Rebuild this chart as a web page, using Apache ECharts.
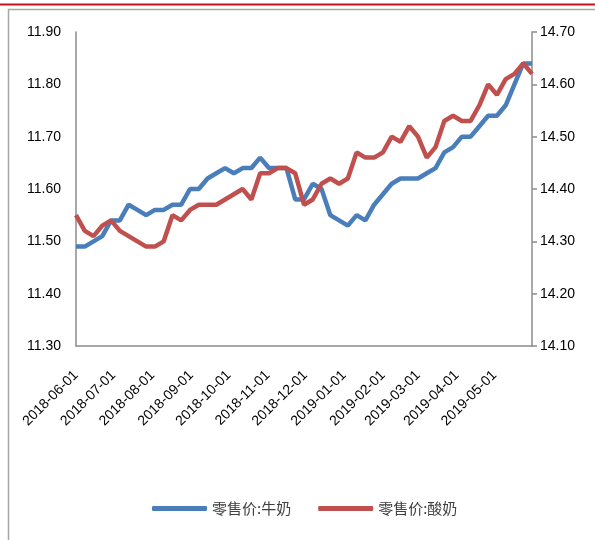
<!DOCTYPE html>
<html>
<head>
<meta charset="utf-8">
<title>零售价:牛奶 / 酸奶</title>
<script src="https://cdn.jsdelivr.net/npm/echarts@6/dist/echarts.min.js"></script>
<style>
    html, body { margin: 0; padding: 0; background: #fff; }
    #main { width: 595px; height: 540px; }
</style>
</head>
<body>
<div id="main"></div>
<script>
// weekly dates
var dates = [
    '2018-06-01', '2018-06-08', '2018-06-15', '2018-06-22', '2018-06-29',
    '2018-07-06', '2018-07-13', '2018-07-20', '2018-07-27',
    '2018-08-03', '2018-08-10', '2018-08-17', '2018-08-24', '2018-08-31',
    '2018-09-07', '2018-09-14', '2018-09-21', '2018-09-28',
    '2018-10-05', '2018-10-12', '2018-10-19', '2018-10-26',
    '2018-11-02', '2018-11-09', '2018-11-16', '2018-11-23', '2018-11-30',
    '2018-12-07', '2018-12-14', '2018-12-21', '2018-12-28',
    '2019-01-04', '2019-01-11', '2019-01-18', '2019-01-25',
    '2019-02-01', '2019-02-08', '2019-02-15', '2019-02-22',
    '2019-03-01', '2019-03-08', '2019-03-15', '2019-03-22', '2019-03-29',
    '2019-04-05', '2019-04-12', '2019-04-19', '2019-04-26',
    '2019-05-03', '2019-05-10', '2019-05-17', '2019-05-24', '2019-05-31'
];
// 零售价:牛奶 (left axis)
var milk = [
    11.49, 11.49, 11.50, 11.51, 11.54, 11.54, 11.57, 11.56, 11.55, 11.56,
    11.56, 11.57, 11.57, 11.60, 11.60, 11.62, 11.63, 11.64, 11.63, 11.64,
    11.64, 11.66, 11.64, 11.64, 11.64, 11.58, 11.58, 11.61, 11.60, 11.55,
    11.54, 11.53, 11.55, 11.54, 11.57, 11.59, 11.61, 11.62, 11.62, 11.62,
    11.63, 11.64, 11.67, 11.68, 11.70, 11.70, 11.72, 11.74, 11.74, 11.76,
    11.80, 11.84, 11.84
];
// 零售价:酸奶 (right axis)
var yogurt = [
    14.35, 14.32, 14.31, 14.33, 14.34, 14.32, 14.31, 14.30, 14.29, 14.29,
    14.30, 14.35, 14.34, 14.36, 14.37, 14.37, 14.37, 14.38, 14.39, 14.40,
    14.38, 14.43, 14.43, 14.44, 14.44, 14.43, 14.37, 14.38, 14.41, 14.42,
    14.41, 14.42, 14.47, 14.46, 14.46, 14.47, 14.50, 14.49, 14.52, 14.50,
    14.46, 14.48, 14.53, 14.54, 14.53, 14.53, 14.56, 14.60, 14.58, 14.61,
    14.62, 14.64, 14.62
];
var seriesNames = ['零售价:牛奶', '零售价:酸奶'];
var leftTicks = [11.3, 11.9, 0.1];
var rightTicks = [14.1, 14.7, 0.1];

var blue = '#4a7ebb', red = '#c0504d', axisGray = '#8c8c8c';
var numFont = 'Liberation Sans, Arial, sans-serif';

function pairs(vals) {
    var out = [];
    for (var i = 0; i < vals.length; i++) out.push([dates[i], vals[i]]);
    return out;
}

var chart = echarts.init(document.getElementById('main'), null, { renderer: 'canvas' });
chart.setOption({
    animation: false,
    backgroundColor: '#fff',
    graphic: [
        { type: 'line', shape: { x1: 0, y1: 4.5, x2: 595, y2: 4.5 }, style: { stroke: '#c8101e', lineWidth: 2 } },
        { type: 'rect', shape: { x: 8.5, y: 9.5, width: 620, height: 560 }, style: { fill: 'none', stroke: '#a6a6a6', lineWidth: 1.5 } }
    ],
    grid: { left: 76, right: 63, top: 32, bottom: 194, containLabel: false },
    legend: {
        data: seriesNames,
        left: 147,
        top: 496,
        icon: 'roundRect',
        itemWidth: 55,
        itemHeight: 5,
        itemGap: 27,
        textStyle: { fontFamily: 'Noto Sans CJK SC', fontSize: 15, color: '#404040' }
    },
    xAxis: {
        type: 'time',
        min: dates[0],
        max: dates[dates.length - 1],
        splitNumber: 12,
        minInterval: 28 * 86400000,
        maxInterval: 31 * 86400000,
        axisLine: { lineStyle: { color: axisGray, width: 1.5 } },
        axisTick: { show: false },
        splitLine: { show: false },
        axisLabel: {
            rotate: 45,
            margin: 27,
            interval: 0,
            hideOverlap: false,
            formatter: '{yyyy}-{MM}-{dd}',
            fontFamily: numFont,
            fontSize: 14,
            color: '#000'
        }
    },
    yAxis: [
        {
            type: 'value',
            min: leftTicks[0], max: leftTicks[1], interval: leftTicks[2],
            axisLine: { show: true, lineStyle: { color: axisGray, width: 1.5 } },
            axisTick: { show: false },
            splitLine: { show: false },
            axisLabel: {
                margin: 15,
                formatter: function (v) { return v.toFixed(2); },
                fontFamily: numFont, fontSize: 14, color: '#000'
            }
        },
        {
            type: 'value',
            position: 'right',
            min: rightTicks[0], max: rightTicks[1], interval: rightTicks[2],
            axisLine: { show: true, lineStyle: { color: axisGray, width: 1.5 } },
            axisTick: { show: true, length: 5, lineStyle: { color: axisGray, width: 1.5 } },
            splitLine: { show: false },
            axisLabel: {
                margin: 8,
                formatter: function (v) { return v.toFixed(2); },
                fontFamily: numFont, fontSize: 14, color: '#000'
            }
        }
    ],
    series: [
        {
            name: seriesNames[0],
            type: 'line',
            yAxisIndex: 0,
            data: pairs(milk),
            showSymbol: false,
            color: blue,
            lineStyle: { color: blue, width: 4.5 }
        },
        {
            name: seriesNames[1],
            type: 'line',
            yAxisIndex: 1,
            data: pairs(yogurt),
            showSymbol: false,
            color: red,
            lineStyle: { color: red, width: 4.5 }
        }
    ]
});
</script>
</body>
</html>
